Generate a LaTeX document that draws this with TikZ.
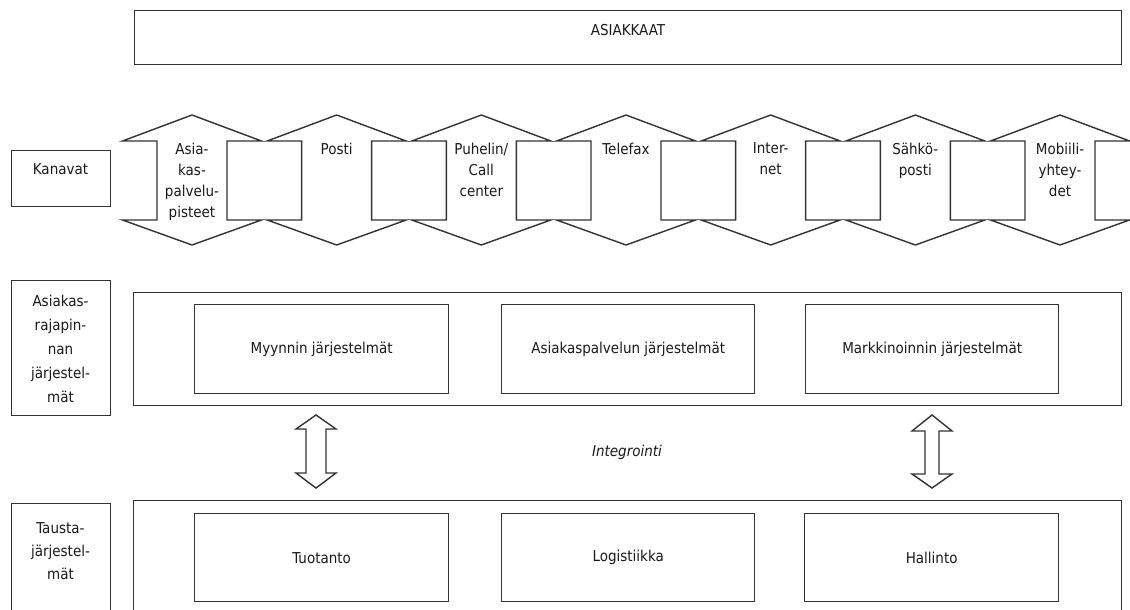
\documentclass[tikz,border=0pt]{standalone}
\usepackage{fontspec}
\setmainfont{DejaVu Sans Condensed}
\usetikzlibrary{calc}
\definecolor{lc}{HTML}{333333}
\definecolor{tc}{HTML}{1A1A1A}
\begin{document}
\begin{tikzpicture}[x=1pt,y=-1pt,
  box/.style={draw=lc, line width=1.4pt, rectangle, inner sep=0pt, anchor=north west},
  txt/.style={inner sep=0pt, anchor=north, align=center, text=tc, font=\fontsize{15}{21}\selectfont},
  ltxt/.style={txt, font=\fontsize{15}{24}\selectfont},
  shp/.style={draw=lc, line width=1.4pt, line join=miter, fill=white}]
\useasboundingbox (0,0) rectangle (1130,610);
\clip (0,0) rectangle (1130,610);
\fill[white] (0,0) rectangle (1130,610);

% top customers box
\node[box, minimum width=987pt, minimum height=54pt] (asi) at (134,10) {};
\node[txt] (asit) at (628,24.5) {ASIAKKAAT};

% left labels
\node[box, minimum width=99pt, minimum height=56pt] (kan) at (11,150) {};
\node[txt] (kant) at (60.5,163.5) {Kanavat};
\node[box, minimum width=99pt, minimum height=135pt] (arj) at (11,280) {};
\node[ltxt] (arjt) at (60.5,295) {Asiakas-\\rajapin-\\nan\\järjestel-\\mät};
\node[box, minimum width=99pt, minimum height=140pt] (tau) at (11,503) {};
\node[txt, font=\fontsize{15}{23}\selectfont] (taut) at (60.5,522.5) {Tausta-\\järjestel-\\mät};

% channels
\foreach \i/\t in {0/{Asia-\\kas-\\palvelu-\\pisteet}, 1/{Posti}, 2/{Puhelin/\\Call\\center}, 3/{Telefax}, 4/{Inter-\\net}, 5/{Sähkö-\\posti}, 6/{Mobiili-\\yhtey-\\det}}{
  \pgfmathsetmacro\cx{192+144.67*\i}
  \draw[shp] (\cx,115) -- (\cx+69.5,141) -- (\cx+35,141) -- (\cx+35,220) -- (\cx+69.5,220) -- (\cx,245)
    -- (\cx-69.5,220) -- (\cx-35,220) -- (\cx-35,141) -- (\cx-69.5,141) -- cycle;
  \node[txt] (ch\i) at (\cx,142.5) {\t};
}

% customer interface systems
\node[box, minimum width=988pt, minimum height=113pt] (cab) at (133,292) {};
\node[box, minimum width=254pt, minimum height=89pt] (myy) at (194,304) {};
\node[txt, anchor=center] (myyt) at (myy.center) {Myynnin järjestelmät};
\node[box, minimum width=253pt, minimum height=89pt] (apj) at (501,304) {};
\node[txt, anchor=center] (apjt) at (apj.center) {Asiakaspalvelun järjestelmät};
\node[box, minimum width=253pt, minimum height=89pt] (mkj) at (805,304) {};
\node[txt, anchor=center] (mkjt) at (mkj.center) {Markkinoinnin järjestelmät};

% back-end systems
\node[box, minimum width=988pt, minimum height=140pt] (bak) at (133,500) {};
\node[box, minimum width=254pt, minimum height=88pt] (tuo) at (194,513) {};
\node[txt, anchor=center] (tuot) at (tuo.center) {Tuotanto};
\node[box, minimum width=253pt, minimum height=88pt] (log) at (501,513) {};
\node[txt, anchor=center] (logt) at (log.center) {Logistiikka};
\node[box, minimum width=254pt, minimum height=88pt] (hal) at (804,513) {};
\node[txt, anchor=center] (halt) at (hal.center) {Hallinto};

% integration
\node[txt, anchor=center, font=\fontsize{15}{18}\selectfont\itshape] (int) at (627,452) {Integrointi};
\coordinate (la) at (316,415);
\coordinate (lb) at (316,488);
\draw[shp] (la) -- ($(la)+(20,14)$) -- ($(la)+(10,14)$) -- ($(lb)+(10,-15)$) -- ($(lb)+(20,-15)$) -- (lb)
  -- ($(lb)+(-20,-15)$) -- ($(lb)+(-10,-15)$) -- ($(la)+(-10,14)$) -- ($(la)+(-20,14)$) -- cycle;
\coordinate (ra) at (932,415);
\coordinate (rb) at (932,488);
\draw[shp] (ra) -- ($(ra)+(20,16)$) -- ($(ra)+(7,16)$) -- ($(rb)+(7,-14)$) -- ($(rb)+(20,-14)$) -- (rb)
  -- ($(rb)+(-20,-14)$) -- ($(rb)+(-7,-14)$) -- ($(ra)+(-7,16)$) -- ($(ra)+(-20,16)$) -- cycle;
\end{tikzpicture}
\end{document}
